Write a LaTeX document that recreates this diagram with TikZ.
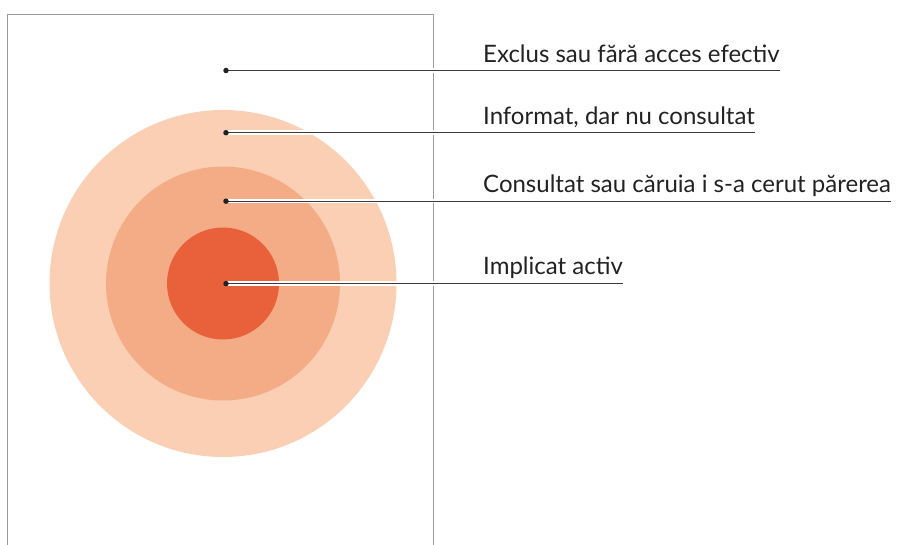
\documentclass[tikz,border=0pt]{standalone}
\usepackage{fontspec}
\setmainfont{Lato}
\definecolor{ringouter}{HTML}{FACFB4}
\definecolor{ringmid}{HTML}{F4AC87}
\definecolor{ringinner}{HTML}{E8613A}
\definecolor{boxgray}{HTML}{9A9A9A}
\definecolor{leadgray}{HTML}{3C3C3C}
\definecolor{dotblack}{HTML}{222222}
\definecolor{txtgray}{HTML}{222222}
\begin{document}
\begin{tikzpicture}[x=1pt,y=-1pt,
  lbl/.style={anchor=base west, inner sep=0pt, font=\fontsize{24}{28}\selectfont, text=txtgray},
  lead/.style={draw=leadgray, line width=1.3pt, preaction={draw=white, line width=4.5pt}},
  dotnode/.style={circle, fill=dotblack, inner sep=0pt, minimum size=5.5pt}]
\useasboundingbox (0,0) rectangle (899,545);
% frame
\draw[boxgray, line width=1pt] (7,545) -- (7,15) -- (433,15) -- (433,545);
% rings
\fill[ringouter] (223,283.5) circle (173.5);
\fill[ringmid] (223,283.5) circle (117);
\fill[ringinner] (223,283.5) circle (56);
% anchor points
\coordinate (p1) at (226,70.5);
\coordinate (p2) at (226,132.7);
\coordinate (p3) at (226,201.2);
\coordinate (p4) at (226,283.6);
% labels
\node[lbl] (t1) at (483,62.5) {Exclus sau fără acces efectiv};
\node[lbl] (t2) at (483,124.2) {Informat, dar nu consultat};
\node[lbl] (t3) at (483,192.8) {Consultat sau căruia i s-a cerut părerea};
\node[lbl] (t4) at (483,274.5) {Implicat activ};
% leaders
\draw[lead] (p1) -- (p1 -| t1.east);
\draw[lead] (p2) -- (p2 -| t2.east);
\draw[lead] (p3) -- (p3 -| t3.east);
\draw[lead] (p4) -- (p4 -| t4.east);
% dots
\node[dotnode] (d1) at (p1) {};
\node[dotnode] (d2) at (p2) {};
\node[dotnode] (d3) at (p3) {};
\node[dotnode] (d4) at (p4) {};
\end{tikzpicture}
\end{document}
